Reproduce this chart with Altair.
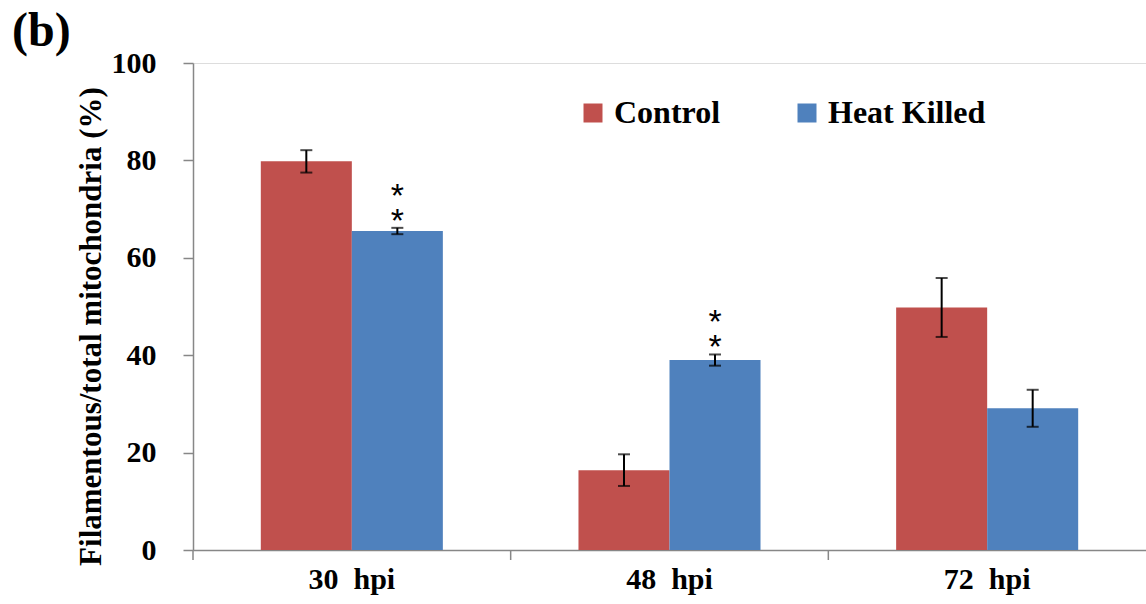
import altair as alt
import pandas as pd

categories = ["30\u00a0\u00a0hpi", "48\u00a0\u00a0hpi", "72\u00a0\u00a0hpi"]
groups = ["Control", "Heat Killed"]
control_vals = [79.8, 16.4, 49.8]
control_err = [2.3, 3.25, 6.05]
heat_vals = [65.5, 39.0, 29.1]
heat_err = [0.65, 1.15, 3.8]
heat_sig = [True, True, False]
colors = ["#C0504D", "#4F81BD"]

rows = []
for i, c in enumerate(categories):
    rows.append({"cat": c, "group": "Control", "value": control_vals[i], "err": control_err[i], "sig": False})
    rows.append({"cat": c, "group": "Heat Killed", "value": heat_vals[i], "err": heat_err[i], "sig": heat_sig[i]})
df = pd.DataFrame(rows)
ticks_df = pd.DataFrame({"cat": categories})

W, H = 953, 487
SERIF = "Liberation Serif"
AX = "#878787"

xscale = alt.Scale(domain=categories, paddingInner=0, paddingOuter=0)
xoff_scale = alt.Scale(domain=groups, paddingInner=0, paddingOuter=0.745)
yscale = alt.Scale(domain=[0, 100], nice=False, zero=True)

x_enc = alt.X("cat:N", scale=xscale, sort=categories, title=None,
              axis=alt.Axis(labelAngle=0, ticks=False, tickSize=0, labelPadding=14,
                            labelFont=SERIF, labelFontWeight="bold", labelFontSize=30,
                            labelColor="black", domainColor=AX, domainWidth=1.5))
y_enc = alt.Y("value:Q", scale=yscale,
              title="Filamentous/total mitochondria (%)",
              axis=alt.Axis(values=[0, 20, 40, 60, 80, 100], grid=False,
                            tickSize=10, tickColor=AX, tickWidth=1.5,
                            domainColor=AX, domainWidth=1.5,
                            labelPadding=27, labelFont=SERIF, labelFontWeight="bold",
                            labelFontSize=30, labelColor="black",
                            titleFont=SERIF, titleFontWeight="bold", titleFontSize=31,
                            titleColor="black", titleX=-102, titleY=263,
                            titleAngle=270, titleAlign="center", titleBaseline="middle"))

base = alt.Chart(df)

bars = base.mark_bar().encode(
    x=x_enc,
    xOffset=alt.XOffset("group:N", scale=xoff_scale, sort=groups),
    y=y_enc,
    color=alt.Color("group:N", sort=groups,
                    scale=alt.Scale(domain=groups, range=colors),
                    legend=alt.Legend(title=None, orient="none", direction="horizontal",
                                      legendX=384, legendY=34, padding=0,
                                      symbolType="square", symbolSize=361,
                                      symbolStrokeWidth=0, labelOffset=5,
                                      columnPadding=70,
                                      labelFont=SERIF, labelFontWeight="bold",
                                      labelFontSize=32, labelColor="black")),
)

errs = base.transform_calculate(
    lo="datum.value - datum.err", hi="datum.value + datum.err"
).mark_rule(color="black", strokeWidth=2).encode(
    x=alt.X("cat:N", scale=xscale, sort=categories),
    xOffset=alt.XOffset("group:N", scale=xoff_scale, sort=groups),
    y=alt.Y("lo:Q", scale=yscale),
    y2="hi:Q",
)

caps_hi = base.transform_calculate(
    hi="datum.value + datum.err"
).mark_tick(color="black", thickness=2, size=12, orient="horizontal").encode(
    x=alt.X("cat:N", scale=xscale, sort=categories),
    xOffset=alt.XOffset("group:N", scale=xoff_scale, sort=groups),
    y=alt.Y("hi:Q", scale=yscale),
)
caps_lo = base.transform_calculate(
    lo="datum.value - datum.err"
).mark_tick(color="black", thickness=2, size=12, orient="horizontal").encode(
    x=alt.X("cat:N", scale=xscale, sort=categories),
    xOffset=alt.XOffset("group:N", scale=xoff_scale, sort=groups),
    y=alt.Y("lo:Q", scale=yscale),
)

star_base = base.transform_filter("datum.sig").transform_calculate(
    hi="datum.value + datum.err"
)
star1 = star_base.mark_text(text="*", font="Liberation Sans", fontSize=34,
                            baseline="middle", dy=-6, color="black").encode(
    x=alt.X("cat:N", scale=xscale, sort=categories),
    xOffset=alt.XOffset("group:N", scale=xoff_scale, sort=groups),
    y=alt.Y("hi:Q", scale=yscale),
)
star2 = star_base.mark_text(text="*", font="Liberation Sans", fontSize=34,
                            baseline="middle", dy=-31, color="black").encode(
    x=alt.X("cat:N", scale=xscale, sort=categories),
    xOffset=alt.XOffset("group:N", scale=xoff_scale, sort=groups),
    y=alt.Y("hi:Q", scale=yscale),
)

xticks = alt.Chart(ticks_df).mark_rule(color=AX, strokeWidth=1.5).encode(
    x=alt.X("cat:N", scale=xscale, sort=categories, bandPosition=0),
    y=alt.value(H),
    y2=alt.value(H + 10),
)

chart = alt.layer(bars, errs, caps_hi, caps_lo, star1, star2, xticks).properties(
    width=W, height=H,
    title=alt.TitleParams("(b)", anchor="start", frame="group", font=SERIF,
                          fontWeight="bold", fontSize=48, color="black",
                          dx=-181, dy=46, offset=0, baseline="alphabetic"),
    autosize=alt.AutoSizeParams(type="none"),
    padding={"left": 193, "top": 63, "right": 0, "bottom": 54},
).configure_view(stroke=None).configure(background="white")

chart.save("out.html", embed_options={"renderer": "svg", "actions": False})
